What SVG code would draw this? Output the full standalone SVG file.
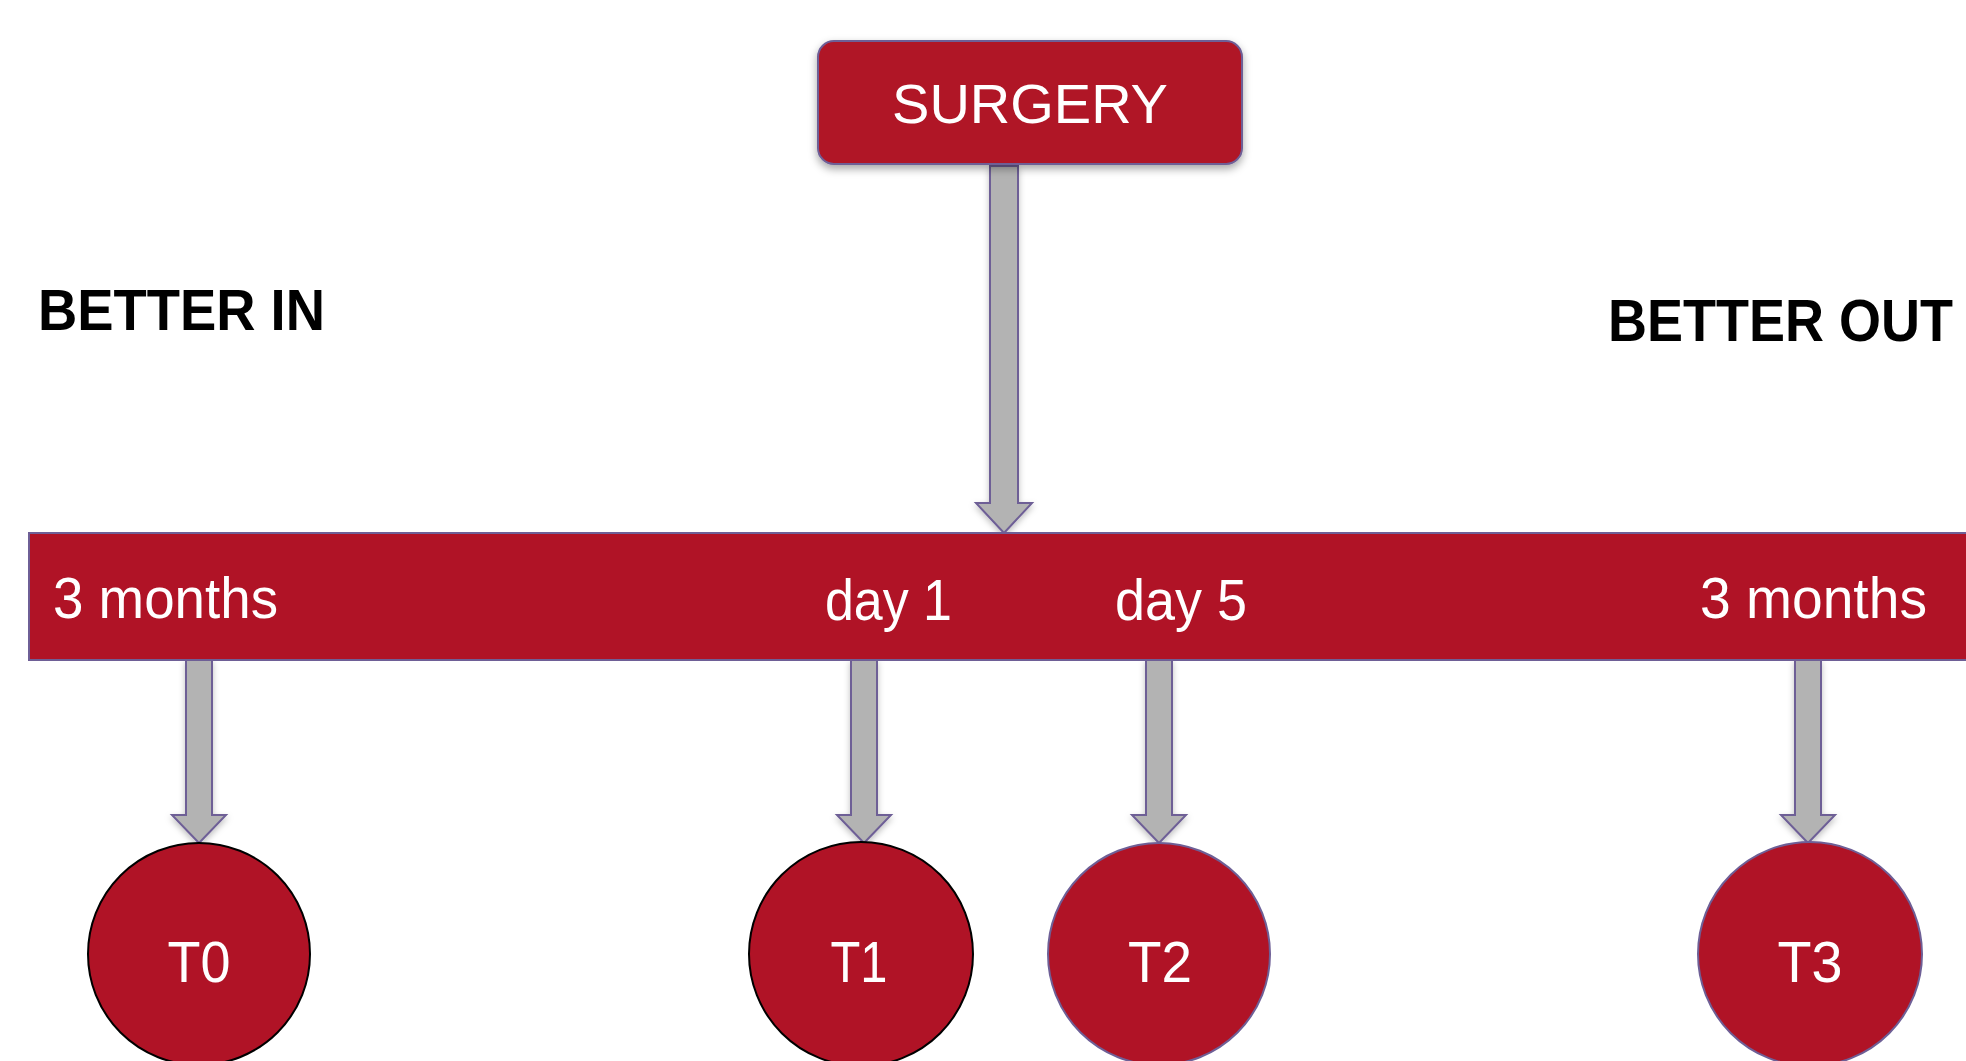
<svg xmlns="http://www.w3.org/2000/svg" width="1966" height="1061" viewBox="0 0 1966 1061">
<defs>
<filter id="sh" x="-20%" y="-20%" width="140%" height="150%">
<feDropShadow dx="0" dy="4" stdDeviation="4" flood-color="#000" flood-opacity="0.35"/>
</filter>
<filter id="ash" x="-50%" y="-10%" width="200%" height="130%">
<feDropShadow dx="0" dy="3" stdDeviation="3" flood-color="#000" flood-opacity="0.25"/>
</filter>
</defs>
<style>
.red{fill:#B01326}
.lbl{font-family:"Liberation Sans",Arial,sans-serif;fill:#fff}
.head{font-family:"Liberation Sans",Arial,sans-serif;font-weight:bold;fill:#000}
.arr{fill:#B3B3B3;stroke:#6E5F96;stroke-width:2;stroke-linejoin:miter}
.cb{stroke:#000;stroke-width:2}
.cp{stroke:#6E5F96;stroke-width:2}
</style>
<rect width="1966" height="1061" fill="#fff"/>

<text id="better-in" class="head" x="38" y="330" font-size="58" textLength="287" lengthAdjust="spacingAndGlyphs">BETTER IN</text>
<text id="better-out" class="head" transform="translate(1608,341) scale(1,1.1)" x="0" y="0" font-size="54">BETTER OUT</text>

<g id="connectors">
<path class="arr" filter="url(#ash)" d="M990,166 H1018 V503 H1032 L1004,533 L976,503 H990 Z"/>
<path class="arr" filter="url(#ash)" d="M186,660 H212 V815 H226 L199,843 L172,815 H186 Z"/>
<path class="arr" filter="url(#ash)" d="M851,660 H877 V815 H891 L864,843 L837,815 H851 Z"/>
<path class="arr" filter="url(#ash)" d="M1146,660 H1172 V815 H1186 L1159,843 L1132,815 H1146 Z"/>
<path class="arr" filter="url(#ash)" d="M1795,660 H1821 V815 H1835 L1808,843 L1781,815 H1795 Z"/>
</g>

<g id="surgery">
<rect class="red" filter="url(#sh)" x="818" y="41" width="424" height="123" rx="16" stroke="#6E5F96" stroke-width="2"/>
<text class="lbl" x="1030" y="123" font-size="56" text-anchor="middle">SURGERY</text>
</g>

<g id="timeline">
<rect class="red" x="29" y="533" width="1950" height="127" stroke="#6E5F96" stroke-width="2"/>
<text class="lbl" x="53" y="618" font-size="57" textLength="225" lengthAdjust="spacingAndGlyphs">3 months</text>
<text class="lbl" x="825" y="620" font-size="57" textLength="127" lengthAdjust="spacingAndGlyphs">day 1</text>
<text class="lbl" x="1115" y="620" font-size="57" textLength="132" lengthAdjust="spacingAndGlyphs">day 5</text>
<text class="lbl" x="1700" y="618" font-size="57" textLength="227" lengthAdjust="spacingAndGlyphs">3 months</text>
</g>

<g id="t0">
<circle class="red cb" cx="199" cy="954" r="111"/>
<text class="lbl" x="199" y="982" font-size="58" text-anchor="middle" textLength="63" lengthAdjust="spacingAndGlyphs">T0</text>
</g>
<g id="t1">
<circle class="red cb" cx="861" cy="954" r="112"/>
<text class="lbl" x="859" y="982" font-size="58" text-anchor="middle" textLength="57" lengthAdjust="spacingAndGlyphs">T1</text>
</g>
<g id="t2">
<circle class="red cp" cx="1159" cy="954" r="111"/>
<text class="lbl" x="1160" y="982" font-size="58" text-anchor="middle" textLength="64" lengthAdjust="spacingAndGlyphs">T2</text>
</g>
<g id="t3">
<circle class="red cp" cx="1810" cy="954" r="112"/>
<text class="lbl" x="1810" y="982" font-size="58" text-anchor="middle" textLength="65" lengthAdjust="spacingAndGlyphs">T3</text>
</g>
</svg>
